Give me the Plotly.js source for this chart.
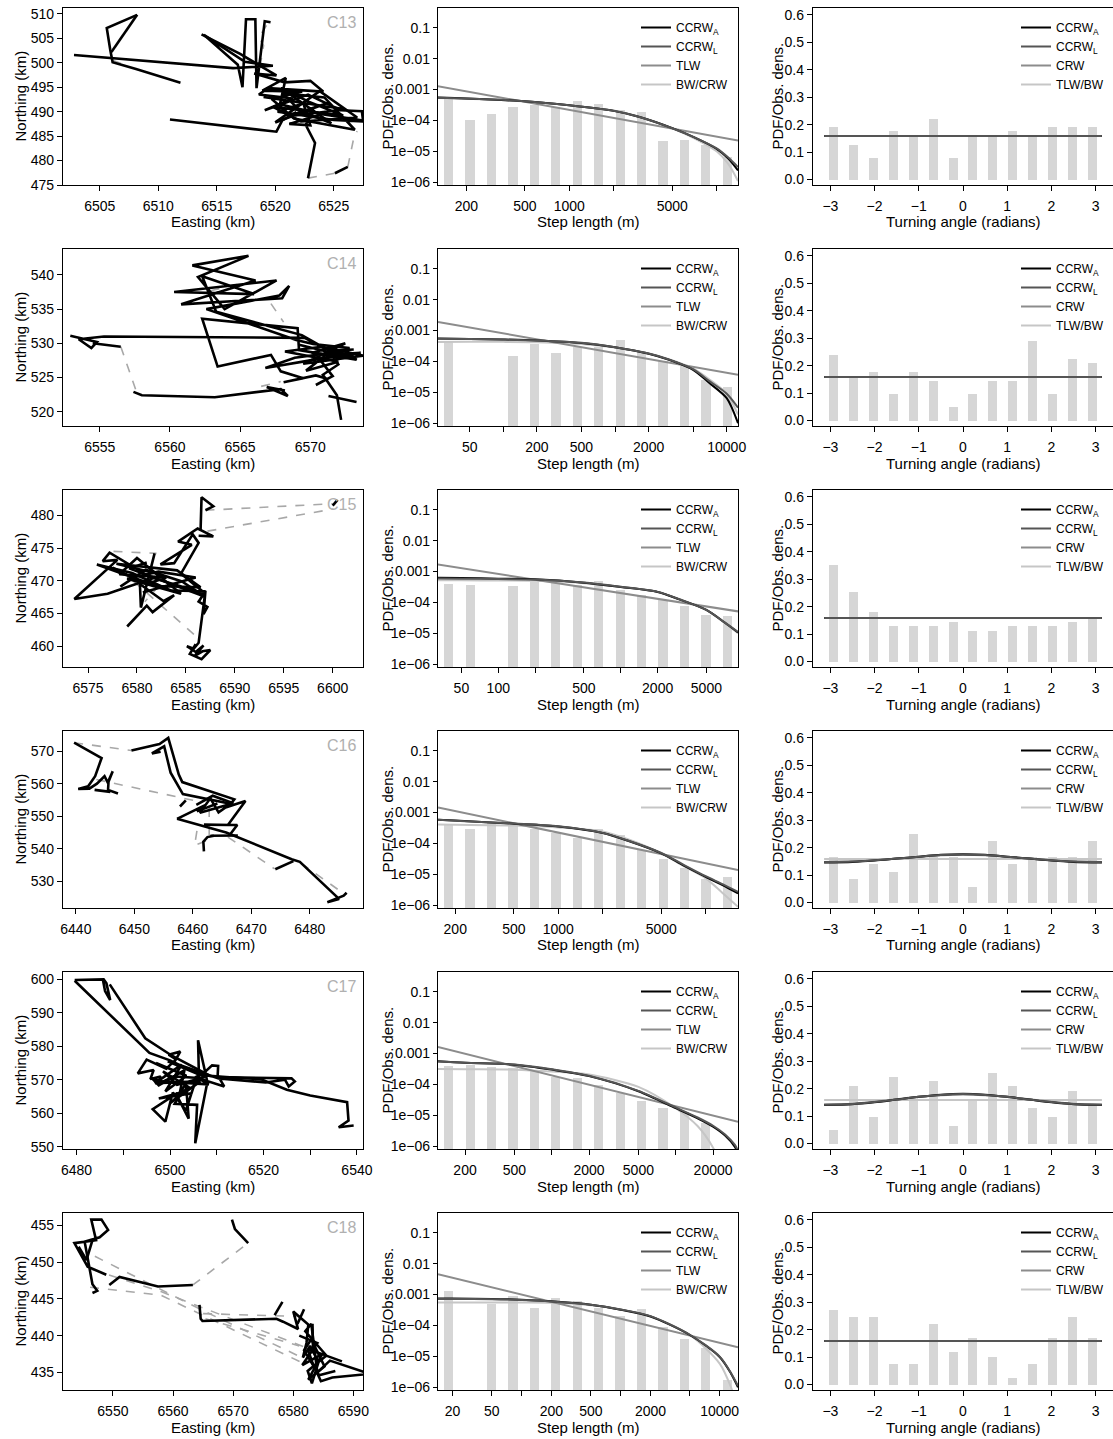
<!DOCTYPE html>
<html><head><meta charset="utf-8">
<script src="https://cdn.plot.ly/plotly-3.0.1.min.js"></script>
<style>body{margin:0;background:#fff}</style>
</head><body><div id="chart" style="width:1113px;height:1439px"></div>
<script>
// ---------------- DATA ----------------
const trackNames = ['C13','C14','C15','C16','C17','C18'];

// tracks: [easting km, northing km]; null = break
const c13Track = [[6502.8,501.6],[6509.6,500.2],[6516.4,498.9],[6519.8,499.4],[6517.4,500.2],[6513.9,505.7],[6516.8,499.6],[6517.2,495.0],[6517.5,508.9],[6518.3,508.9],[6518.4,494.8],[6519.1,508.5],[6519.6,508.3],null,
 [6513.7,505.8],[6517.0,501.8],[6520.1,497.4],[6518.2,497.8],[6520.8,496.0],[6523.0,496.3],[6524.1,494.1],[6519.4,494.8],[6518.6,493.5],[6521.5,492.7],[6519.1,490.3],[6522.8,493.5],[6525.6,490.3],[6527.4,490.1],[6527.5,488.2],[6524.0,489.5],[6521.2,487.5],[6523.0,487.2],[6522.4,491.7],[6520.2,490.0],[6525.0,488.3],[6528.3,487.9],[6525.3,489.0],[6522.0,490.5],[6520.6,493.8],[6524.2,492.9],[6526.8,486.3],[6521.6,488.6],[6519.7,492.6],[6522.3,494.1],[6518.9,494.3],[6520.9,496.9],[6520.4,491.5],[6523.2,489.9],[6522.6,487.3],[6523.4,483.6],[6522.8,476.4],null,
 [6519.0,493.0],[6526.0,490.5],[6521.0,489.0],[6524.5,491.8],[6520.0,487.8],[6523.8,494.2],[6527.0,488.8],[6522.2,488.0],[6519.8,491.0],[6525.8,489.2],[6522.9,492.0],[6520.5,494.8],[6524.8,487.6],[6521.4,490.9],null,
 [6525.1,477.4],[6526.2,478.7],null,
 [6511.0,488.4],[6520.1,485.9],[6520.6,488.2],[6521.8,489.9],null,
 [6508.2,509.8],[6505.6,507.1],[6505.9,502.6],[6506.1,500.1],[6508.1,498.7],[6511.9,495.9],null,
 [6508.2,509.8],[6506.0,502.2]];
const c13Gap = [[6522.8,476.4],[6525.1,477.4],null,[6526.2,478.7],[6526.7,484.5],[6527.0,486.0],null,[6518.7,499.2],[6519.0,503.5],[6518.6,505.2],[6519.3,507.8],null,[6506.1,500.5],[6506.9,499.8]];

const c14Track = [[6552.9,531.1],[6554.8,530.2],[6554.4,529.3],[6553.5,530.6],[6555.3,531.0],[6569.6,530.8],[6571.8,528.4],[6573.6,528.6],[6570.0,527.5],[6566.8,526.4],[6568.9,527.9],[6572.6,528.9],[6573.3,527.6],[6569.2,529.0],[6569.1,532.2],[6562.3,533.6],[6563.4,526.6],[6567.2,528.3],[6567.9,525.9],[6569.5,524.9],[6568.1,524.3],[6570.4,525.3],[6571.2,524.8],[6570.4,523.9],[6571.6,525.2],[6570.7,527.6],[6572.8,529.3],[6570.2,529.9],[6569.0,530.5],[6562.6,535.0],[6567.8,537.0],[6568.5,538.4],[6568.0,536.6],[6560.8,535.7],[6566.1,539.2],[6561.6,541.4],[6565.6,542.8],[6562.0,539.7],[6563.9,535.0],[6567.6,539.2],[6560.3,537.5],[6566.0,537.2],[6562.3,539.8],[6563.3,534.6],[6569.4,531.2],[6571.3,529.0],[6572.0,526.9],[6570.9,525.4],[6571.9,522.4],[6572.2,518.8],null,
 [6569.2,529.8],[6573.0,527.9],[6570.1,528.6],[6572.5,530.0],[6569.5,527.0],[6573.8,528.2],[6570.8,529.5],[6568.2,528.8],[6572.0,527.3],[6569.7,526.0],[6571.5,528.9],[6573.1,529.1],null,
 [6571.3,522.3],[6573.3,521.4],null,
 [6554.5,530.0],[6556.5,529.5],null,
 [6557.4,522.9],[6558.0,522.4],[6563.2,522.1],[6567.9,523.3],[6568.4,522.3],[6566.9,523.6],[6568.2,523.1]];
const c14Gap = [[6556.5,529.5],[6557.6,523.0],null,[6562.9,537.7],[6565.4,538.9],null,[6567.2,535.8],[6568.1,533.1],null,[6566.5,523.7],[6567.9,524.4]];

const c15Track = [[6586.5,477.7],[6586.6,482.8],[6587.8,481.4],[6587.0,480.8],null,
 [6600.0,481.5],[6600.5,482.4],null,
 [6586.3,476.9],[6587.8,476.8],[6586.2,478.0],[6584.2,476.0],[6585.6,475.5],[6582.4,472.5],[6583.8,472.7],[6585.7,477.1],[6586.3,475.8],[6584.5,471.1],[6587.0,468.0],[6581.3,470.6],[6577.2,474.3],[6576.5,473.0],[6578.0,473.2],[6573.6,467.2],[6577.0,468.0],[6582.6,470.9],[6577.9,472.6],[6584.1,471.6],[6586.5,469.0],[6582.0,469.2],[6575.9,472.5],[6579.5,471.2],[6583.5,468.5],[6587.0,468.4],[6586.3,466.8],[6587.2,466.0],[6586.8,464.9],[6587.0,468.5],[6586.3,460.5],[6585.8,459.6],[6585.1,460.0],[6586.0,459.1],[6586.8,460.1],[6585.9,458.5],[6586.7,459.2],[6587.5,459.4],[6586.6,458.0],[6585.4,458.8],[6586.0,460.3],null,
 [6579.0,463.0],[6581.0,466.2],[6581.6,465.2],[6583.8,467.8],[6582.7,466.9],[6580.3,469.5],[6580.4,465.9],[6581.8,474.2],null,
 [6578.3,469.1],[6580.9,471.7],[6584.6,469.9],[6586.9,467.6],[6579.2,471.9],[6581.0,472.8],null,
 [6577.5,472.0],[6581.0,469.5],[6583.0,470.5],[6578.2,471.0],[6580.0,473.5],[6584.5,468.0],[6579.0,470.3],[6582.2,471.4],[6586.0,470.5],[6580.6,468.2]];
const c15Gap = [[6587.0,480.8],[6600.0,481.8],null,[6587.2,477.6],[6600.1,481.0],null,[6577.6,474.5],[6582.0,474.2],null,[6579.6,470.0],[6585.9,461.7],null,[6582.3,469.3],[6580.8,466.8]];

const c16Track = [[6439.7,572.6],[6444.4,567.9],[6443.3,562.3],[6442.1,559.2],[6440.4,558.4],[6442.3,558.5],[6443.6,560.0],[6444.9,562.3],[6445.5,560.2],[6446.3,563.8],[6445.6,561.0],[6445.5,558.1],[6447.2,557.0],null,
 [6443.2,558.1],[6445.9,557.5],null,
 [6449.5,570.2],[6454.3,572.2],[6455.8,574.1],[6457.6,562.8],[6458.2,560.5],[6467.1,555.2],[6466.5,553.8],[6458.3,556.8],[6456.2,563.4],[6455.1,571.5],[6453.0,569.3],[6454.5,569.8],null,
 [6460.6,553.5],[6463.4,556.3],[6466.9,554.0],[6461.2,551.1],[6463.0,555.5],[6464.4,551.2],[6465.6,552.7],[6469.0,554.7],[6466.0,547.3],[6461.9,547.4],[6467.6,547.3],[6466.2,544.0],[6463.0,544.0],[6467.7,544.1],null,
 [6457.3,549.2],[6462.1,553.4],[6460.7,551.5],[6464.2,553.9],null,
 [6457.3,549.2],[6465.7,545.0],[6476.9,536.8],[6478.3,536.0],[6485.0,524.6],[6483.0,523.6],[6485.8,525.6],[6486.3,526.5],null,
 [6474.1,533.7],[6477.2,536.2],null,
 [6461.9,539.2],[6461.8,542.2],[6462.5,543.6],[6463.6,544.0],null,
 [6457.8,553.0],[6458.8,554.9]];
const c16Gap = [[6439.7,572.6],[6449.5,570.2],null,[6443.5,561.3],[6460.8,554.6],null,[6460.7,545.5],[6460.3,541.0],[6463.6,543.4],null,[6462.8,552.5],[6462.8,543.0],null,[6466.0,543.6],[6474.0,533.8],null,[6478.5,535.6],[6485.2,527.0]];

const c17Track = [[6479.6,599.8],[6485.8,600.0],[6486.4,598.8],[6487.2,593.8],[6486.1,596.5],[6485.6,600.2],null,
 [6479.6,599.6],[6495.6,578.0],[6500.0,575.8],[6506.2,571.7],[6509.8,570.8],[6526.0,570.4],[6526.7,569.5],[6525.4,568.0],[6524.6,570.0],[6520.5,569.2],[6510.4,570.4],[6500.8,575.0],[6502.2,578.4],[6499.7,577.5],[6501.3,576.1],[6499.2,573.3],[6495.0,576.0],[6493.1,571.9],[6496.5,572.9],[6495.8,570.2],[6498.0,571.0],[6497.4,568.7],[6500.8,571.0],[6505.3,570.6],[6507.3,572.1],[6509.0,574.3],[6510.3,574.1],[6510.2,571.3],[6511.6,568.0],[6506.2,570.4],[6506.0,581.8],[6508.0,569.3],[6505.4,551.0],[6505.8,562.5],[6501.0,562.8],[6503.4,569.0],[6504.0,558.4],[6501.3,565.8],[6496.3,561.2],[6499.0,557.5],[6500.6,566.2],[6503.4,560.8],[6505.7,570.7],[6508.3,568.6],[6498.2,569.5],[6496.1,570.5],[6497.6,568.3],[6503.1,572.9],[6502.1,566.1],[6497.6,564.4],[6504.8,566.0],null,
 [6497.0,575.0],[6503.5,571.2],[6499.0,566.5],[6502.5,574.5],[6496.8,569.0],[6506.5,569.5],[6500.0,563.0],[6504.0,567.8],[6498.5,572.5],[6501.5,568.5],[6507.5,570.8],[6499.5,575.5],null,
 [6487.1,598.5],[6494.7,582.4],[6500.5,577.1],[6508.5,571.2],[6512.0,570.8],[6519.5,570.1],[6525.0,567.0],[6530.0,565.3],[6537.9,563.3],[6538.2,557.8],[6536.1,555.8],[6539.3,556.3]];
const c17Gap = [];

const c18Track = [[6548.9,448.3],[6545.8,449.4],[6543.6,452.6],[6547.2,453.0],[6546.4,455.8],[6548.1,455.8],[6549.2,454.4],[6547.8,453.4],[6545.3,452.8],[6546.0,449.8],[6546.6,447.0],[6547.4,446.1],[6546.6,445.8],null,
 [6544.3,452.1],[6545.6,450.3],[6546.6,453.0],null,
 [6549.4,446.9],[6551.1,448.0],[6557.5,446.7],[6563.3,446.9],null,
 [6569.8,455.8],[6570.3,454.5],[6572.5,452.6],null,
 [6564.4,444.2],[6564.6,442.3],[6564.9,442.0],[6577.2,442.3],[6578.3,441.9],[6580.8,440.9],[6580.0,443.3],[6582.5,441.5],[6582.2,439.0],[6581.6,437.0],[6582.8,438.6],[6584.2,436.4],[6583.1,433.5],[6582.4,435.2],[6585.5,437.3],[6582.0,440.6],[6583.0,441.6],[6584.0,435.0],[6586.1,436.6],[6592.7,434.8],[6586.5,434.3],[6584.6,433.8],[6583.2,436.3],[6582.4,438.2],[6588.1,436.5],null,
 [6581.0,440.0],[6584.0,439.0],[6581.5,436.0],[6584.8,437.5],[6582.5,434.0],[6585.2,435.8],[6583.0,439.5],[6581.8,438.0],[6584.3,434.6],[6587.0,435.2],null,
 [6578.2,444.6],[6576.9,442.8],null,
 [6581.8,443.6],[6580.7,441.6],null,
 [6583.2,441.6],[6583.3,437.6]];
const c18Gap = [[6547.0,450.8],[6565.0,443.4],[6581.5,437.0],null,[6546.5,449.0],[6558.0,446.0],[6582.3,438.3],null,[6546.2,446.6],[6558.0,445.5],[6581.5,436.3],null,[6565.0,443.0],[6581.4,442.6],null,[6565.4,442.3],[6581.0,438.6],null,[6563.3,446.9],[6572.5,452.6]];

const eastRanges = [[6501.86,6527.5],[6552.38,6573.76],[6572.44,6603.1],[6437.8,6489.1],[6477.1,6541.3],[6541.7,6591.6]];
const northRanges = [[475,511.2],[517.9,543.8],[456.8,483.9],[521.8,576.2],[549.3,602.2],[432.6,456.7]];
const eastTicks = [[6505,6510,6515,6520,6525],[6555,6560,6565,6570],[6575,6580,6585,6590,6595,6600],[6440,6450,6460,6470,6480],[6480,6500,6520,6540],[6550,6560,6570,6580,6590]];
const eastMinorTicks = [[],[],[],[],[6490,6510,6530],[]];
const northTicks = [[475,480,485,490,495,500,505,510],[520,525,530,535,540],[460,465,470,475,480],[530,540,550,560,570],[550,560,570,580,590,600],[435,440,445,450,455]];

// step-length histograms (bin centres in m, observed density)
const stepBinsC13 = [152,212,297,415,581,811,1133,1585,2213,3097,4325,6053,8453,11800];
const stepBinsC14 = [32.4,50.5,78.5,122,190,296,459,714,1112,1730,2692,4188,6516,10140];
const stepBinsC15 = [39.4,58.9,88.1,132,197,295,442,661,989,1479,2213,3311,4955,7413];
const stepBinsC16 = [181,252,353,493,690,964,1349,1884,2630,3681,5140,7194,10046,14060];
const stepBinsC17 = [148,220,327,488,724,1079,1607,2393,3565,5297,7889,11749,17498,26002];
const stepBinsC18 = [18.3,30.1,49.7,81.7,135,221,364,600,986,1626,2673,4395,7244,11912];
const stepDensC13 = [5.75e-4,1.07e-4,1.58e-4,2.75e-4,3.09e-4,2.75e-4,4.27e-4,3.31e-4,2.14e-4,1.86e-4,2.14e-5,2.34e-5,1.66e-5,6.46e-6];
const stepDensC14 = [4.47e-4,null,null,1.45e-4,3.63e-4,1.82e-4,2.88e-4,2.88e-4,4.79e-4,2.14e-4,1.0e-4,6.92e-5,2.57e-5,1.48e-5];
const stepDensC15 = [4.07e-4,3.80e-4,null,3.39e-4,4.57e-4,4.37e-4,3.55e-4,4.79e-4,2.45e-4,1.70e-4,1.17e-4,7.94e-5,3.98e-5,3.55e-5];
const stepDensC16 = [4.07e-4,3.02e-4,4.57e-4,3.55e-4,3.02e-4,2.19e-4,1.48e-4,3.02e-4,1.91e-4,6.17e-5,3.16e-5,1.66e-5,7.08e-6,8.32e-6];
const stepDensC17 = [3.89e-4,4.37e-4,3.55e-4,3.39e-4,3.02e-4,1.70e-4,1.62e-4,9.77e-5,5.25e-5,2.95e-5,1.70e-5,1.26e-5,5.50e-6,null];
const stepDensC18 = [1.29e-3,null,5.01e-4,8.91e-4,3.72e-4,7.59e-4,6.17e-4,3.72e-4,1.95e-4,3.47e-4,8.71e-5,3.55e-5,1.82e-5,1.66e-6];

// fitted step-length PDFs
const stepCurveC13 = [128,200,500,1000,2000,3000,5000,7000,10000,12000,13960];
const ccrwAStepC13 = [5.50e-4,5.13e-4,4.17e-4,3.09e-4,2.04e-4,1.29e-4,5.62e-5,2.88e-5,1.20e-5,5.8e-6,2.40e-6];
const ccrwLStepC13 = [5.40e-4,5.10e-4,4.20e-4,3.10e-4,2.05e-4,1.30e-4,5.60e-5,2.90e-5,1.25e-5,6.3e-6,3.10e-6];
const bwcrwStepC13 = [5.30e-4,5.00e-4,4.15e-4,3.10e-4,2.10e-4,1.32e-4,5.60e-5,2.70e-5,1.00e-5,3.9e-6,1.10e-6];
const tlwXC13 = [128,13960], tlwYC13 = [1.29e-3,2.24e-5];

const stepCurveC14 = [26,50,100,200,500,1000,2000,3000,5000,7000,10000,12620];
const ccrwAStepC14 = [5.50e-4,5.37e-4,5.13e-4,4.79e-4,3.98e-4,2.88e-4,1.78e-4,1.15e-4,5.37e-5,2.0e-5,6.46e-6,1.0e-6];
const ccrwLStepC14 = [5.40e-4,5.30e-4,5.10e-4,4.80e-4,4.00e-4,2.90e-4,1.80e-4,1.17e-4,5.6e-5,2.3e-5,9.0e-6,3.2e-6];
const bwcrwStepC14 = [4.27e-4,4.30e-4,4.30e-4,4.20e-4,3.70e-4,2.80e-4,1.80e-4,1.20e-4,5.8e-5,2.6e-5,9.0e-6,1.9e-6];
const tlwXC14 = [26,12620], tlwYC14 = [1.91e-3,3.72e-5];

const stepCurveC15 = [32,50,100,200,500,1000,2000,3000,5000,7000,9060];
const ccrwAStepC15 = [6.31e-4,6.17e-4,5.89e-4,5.62e-4,4.37e-4,3.16e-4,2.19e-4,1.26e-4,5.75e-5,2.29e-5,1.07e-5];
const ccrwLStepC15 = [6.0e-4,5.9e-4,5.7e-4,5.5e-4,4.4e-4,3.2e-4,2.2e-4,1.27e-4,5.7e-5,2.3e-5,1.1e-5];
const bwcrwStepC15 = [5.25e-4,5.2e-4,5.1e-4,5.0e-4,4.2e-4,3.2e-4,2.2e-4,1.3e-4,5.6e-5,2.2e-5,1.0e-5];
const tlwXC15 = [32,9060], tlwYC15 = [1.70e-3,5.13e-5];

const stepCurveC16 = [153,200,500,1000,2000,3000,5000,7000,10000,13000,16560];
const ccrwAStepC16 = [5.89e-4,5.50e-4,4.37e-4,3.55e-4,2.19e-4,1.20e-4,4.79e-5,2.0e-5,8.32e-6,4.47e-6,2.40e-6];
const ccrwLStepC16 = [5.8e-4,5.45e-4,4.4e-4,3.6e-4,2.2e-4,1.22e-4,4.9e-5,2.1e-5,8.7e-6,4.8e-6,2.7e-6];
const bwcrwStepC16 = [4.07e-4,4.0e-4,3.8e-4,3.3e-4,2.45e-4,1.35e-4,4.8e-5,1.9e-5,7.4e-6,2.5e-6,8.9e-7];
const tlwXC16 = [153,16560], tlwYC16 = [1.45e-3,1.38e-5];

const stepCurveC17 = [121,200,500,1000,2000,5000,10000,15000,20000,25000,30000,31770];
const ccrwAStepC17 = [5.62e-4,5.01e-4,4.37e-4,3.02e-4,1.86e-4,6.03e-5,1.70e-5,8.0e-6,4.27e-6,2.2e-6,9.5e-7,6.0e-7];
const ccrwLStepC17 = [5.5e-4,5.0e-4,4.4e-4,3.1e-4,1.9e-4,6.2e-5,1.8e-5,8.5e-6,4.6e-6,2.4e-6,1.1e-6,7.0e-7];
const bwcrwStepC17 = [3.16e-4,3.1e-4,3.0e-4,2.6e-4,2.1e-4,8.3e-5,1.7e-5,4.5e-6,9e-7,1.2e-7,1e-8,5e-9];
const tlwXC17 = [121,31770], tlwYC17 = [1.62e-3,6.17e-6];

const stepCurveC18 = [14.3,20,50,100,200,500,1000,2000,5000,10000,13000,15310];
const ccrwAStepC18 = [7.41e-4,7.41e-4,7.24e-4,6.76e-4,6.03e-4,4.68e-4,3.24e-4,1.95e-4,4.90e-5,9.55e-6,2.8e-6,1.0e-6];
const ccrwLStepC18 = [7.2e-4,7.2e-4,7.1e-4,6.7e-4,6.0e-4,4.7e-4,3.3e-4,2.0e-4,5.0e-5,9.8e-6,2.9e-6,1.1e-6];
const bwcrwStepC18 = [5.5e-4,5.5e-4,5.5e-4,5.5e-4,5.4e-4,4.5e-4,3.3e-4,2.0e-4,4.9e-5,5.8e-6,1.0e-6,2e-7];
const tlwXC18 = [14.3,15310], tlwYC18 = [4.57e-3,1.95e-5];

const stepRangesLog = [[2.109,4.145],[1.415,4.101],[1.508,3.957],[2.184,4.219],[2.083,4.502],[1.155,4.185]];
const stepTicks = [[200,500,1000,5000],[50,200,500,2000,10000],[50,100,500,2000,5000],[200,500,1000,5000],[200,500,2000,5000,20000],[20,50,200,500,2000,10000]];
const stepMinorTicks = [[2000,10000],[100,1000,5000],[200,1000],[2000,10000],[1000,10000],[100,1000,5000]];
const densTicks = [1e-6,1e-5,1e-4,1e-3,1e-2,1e-1];
const densTickText = ['1e\u221206','1e\u221205','1e\u221204','0.001','0.01','0.1'];

// turning-angle histograms
const angleBins = [-2.92,-2.47,-2.02,-1.57,-1.12,-0.67,-0.22,0.22,0.67,1.12,1.57,2.02,2.47,2.92];
const angleDensC13 = [0.19,0.125,0.08,0.175,0.16,0.22,0.08,0.16,0.16,0.175,0.16,0.19,0.19,0.19];
const angleDensC14 = [0.24,0.16,0.175,0.095,0.175,0.145,0.05,0.095,0.145,0.145,0.29,0.095,0.225,0.21];
const angleDensC15 = [0.35,0.255,0.18,0.13,0.13,0.13,0.145,0.11,0.11,0.13,0.13,0.13,0.145,0.16];
const angleDensC16 = [0.167,0.084,0.139,0.111,0.251,0.167,0.167,0.056,0.223,0.139,0.167,0.167,0.167,0.223];
const angleDensC17 = [0.049,0.21,0.096,0.241,0.165,0.226,0.063,0.16,0.256,0.21,0.128,0.096,0.193,0.145];
const angleDensC18 = [0.27,0.245,0.245,0.075,0.075,0.22,0.12,0.17,0.1,0.025,0.075,0.17,0.245,0.17];

const uniformX = [-3.1416,3.1416], uniformY = [0.159,0.159];
const angleCurveX = [-3.1416,-2.5,-2,-1.5,-1,-0.5,0,0.5,1,1.5,2,2.5,3.1416];
const ccrwAAngleC16 = [0.146,0.148,0.153,0.160,0.167,0.174,0.176,0.174,0.167,0.160,0.153,0.148,0.146];
const ccrwLAngleC16 = [0.147,0.149,0.154,0.160,0.167,0.173,0.175,0.173,0.167,0.160,0.154,0.149,0.147];
const crwAngleC16   = [0.148,0.150,0.154,0.160,0.166,0.172,0.174,0.172,0.166,0.160,0.154,0.150,0.148];
const ccrwAAngleC17 = [0.140,0.143,0.150,0.160,0.170,0.178,0.181,0.178,0.170,0.160,0.150,0.143,0.140];
const ccrwLAngleC17 = [0.141,0.144,0.151,0.160,0.170,0.177,0.180,0.177,0.170,0.160,0.151,0.144,0.141];
const crwAngleC17   = [0.142,0.145,0.152,0.161,0.170,0.176,0.179,0.176,0.170,0.161,0.152,0.145,0.142];

// ---------------- BUILD ----------------
const tracks = [c13Track,c14Track,c15Track,c16Track,c17Track,c18Track];
const gaps = [c13Gap,c14Gap,c15Gap,c16Gap,c17Gap,c18Gap];
const stepBins = [stepBinsC13,stepBinsC14,stepBinsC15,stepBinsC16,stepBinsC17,stepBinsC18];
const stepDens = [stepDensC13,stepDensC14,stepDensC15,stepDensC16,stepDensC17,stepDensC18];
const stepCurveX = [stepCurveC13,stepCurveC14,stepCurveC15,stepCurveC16,stepCurveC17,stepCurveC18];
const ccrwAStep = [ccrwAStepC13,ccrwAStepC14,ccrwAStepC15,ccrwAStepC16,ccrwAStepC17,ccrwAStepC18];
const ccrwLStep = [ccrwLStepC13,ccrwLStepC14,ccrwLStepC15,ccrwLStepC16,ccrwLStepC17,ccrwLStepC18];
const bwcrwStep = [bwcrwStepC13,bwcrwStepC14,bwcrwStepC15,bwcrwStepC16,bwcrwStepC17,bwcrwStepC18];
const tlwX = [tlwXC13,tlwXC14,tlwXC15,tlwXC16,tlwXC17,tlwXC18];
const tlwY = [tlwYC13,tlwYC14,tlwYC15,tlwYC16,tlwYC17,tlwYC18];
const angleDens = [angleDensC13,angleDensC14,angleDensC15,angleDensC16,angleDensC17,angleDensC18];
const angleCurves = [null,null,null,
  {x:angleCurveX,a:ccrwAAngleC16,l:ccrwLAngleC16,c:crwAngleC16},
  {x:angleCurveX,a:ccrwAAngleC17,l:ccrwLAngleC17,c:crwAngleC17},null];

const FONT = 'Liberation Sans, Arial, Helvetica, sans-serif';
const W = 1113, H = 1439;
const COLX = [63,438,813], PW = 300, PH = 177, TOP0 = 8, PITCH = 241;
const C_A = '#000000', C_L = '#555555', C_M = '#8c8c8c', C_B = '#c6c6c6', BAR = '#d6d6d6';

const traces = [];
const layout = {
  width: W, height: H, margin: {l:0,r:0,t:0,b:0, pad:0},
  paper_bgcolor: '#fff', plot_bgcolor: '#fff',
  font: {family: FONT, size: 14, color: '#000'},
  showlegend: true, bargap: 0, annotations: []
};
const sfx = k => (k === 1 ? '' : String(k));
function baseAxis(){
  return {showline:true, linecolor:'#000', linewidth:1.2, mirror:true, ticks:'outside', ticklen:5,
    tickwidth:1, tickcolor:'#000', showgrid:false, zeroline:false, fixedrange:true,
    tickfont:{family:FONT,size:14,color:'#000'}};
}
function minorTicks(vals){
  return {tickmode:'array', tickvals:vals, ticks:'outside', ticklen:5, tickwidth:1, tickcolor:'#000', showgrid:false};
}
function legendBox(textLeftPx, topPx){
  return {x:(textLeftPx-40)/W, xanchor:'left', y:1-topPx/H, yanchor:'top', bgcolor:'rgba(0,0,0,0)',
    borderwidth:0, font:{family:FONT,size:12,color:'#000'}, itemwidth:30, tracegroupgap:0,
    traceorder:'normal', itemclick:false, itemdoubleclick:false};
}
function ann(text, xpx, ypx, opts){
  return Object.assign({text, xref:'paper', yref:'paper', x:xpx/W, y:1-ypx/H, showarrow:false,
    xanchor:'center', yanchor:'middle', font:{family:FONT,size:15,color:'#000'}}, opts||{});
}
const xy = pts => ({x: pts.map(p => p ? p[0] : null), y: pts.map(p => p ? p[1] : null)});

for (let r = 0; r < 6; r++) {
  const top = TOP0 + PITCH*r, bot = top + PH;
  const yd = [1 - bot/H, 1 - top/H];
  const k1 = 3*r+1, k2 = 3*r+2, k3 = 3*r+3;

  // ---- column 1: track ----
  const xa1 = Object.assign(baseAxis(), {domain:[COLX[0]/W,(COLX[0]+PW)/W], anchor:'y'+sfx(k1),
    range:eastRanges[r], tickmode:'array', tickvals:eastTicks[r], ticktext:eastTicks[r].map(String), ticklabelstandoff:3});
  if (eastMinorTicks[r].length) xa1.minor = minorTicks(eastMinorTicks[r]);
  layout['xaxis'+sfx(k1)] = xa1;
  layout['yaxis'+sfx(k1)] = Object.assign(baseAxis(), {domain:yd, anchor:'x'+sfx(k1),
    range:northRanges[r], tickmode:'array', tickvals:northTicks[r], ticktext:northTicks[r].map(String)});
  if (gaps[r].length) {
    const g = xy(gaps[r]);
    traces.push({type:'scatter', mode:'lines', x:g.x, y:g.y, xaxis:'x'+sfx(k1), yaxis:'y'+sfx(k1),
      line:{color:'#a8a8a8', width:1.6, dash:'dash'}, showlegend:false, hoverinfo:'skip', connectgaps:false});
  }
  const t = xy(tracks[r]);
  traces.push({type:'scatter', mode:'lines', x:t.x, y:t.y, xaxis:'x'+sfx(k1), yaxis:'y'+sfx(k1),
    line:{color:'#000', width:2.6}, showlegend:false, hoverinfo:'skip', connectgaps:false});
  layout.annotations.push(ann(trackNames[r], COLX[0]+PW-5, top+4, {xanchor:'right', yanchor:'top', font:{family:FONT,size:16,color:'#b0b0b0'}}));
  layout.annotations.push(ann('Easting (km)', COLX[0]+PW/2, top+214));
  layout.annotations.push(ann('Northing (km)', 20, top+PH/2, {textangle:-90}));

  // ---- column 2: step length ----
  const lg2 = 2*r+1, lg3 = 2*r+2;
  const lgName2 = 'legend'+sfx(lg2), lgName3 = 'legend'+sfx(lg3);
  layout['xaxis'+sfx(k2)] = Object.assign(baseAxis(), {domain:[COLX[1]/W,(COLX[1]+PW)/W], anchor:'y'+sfx(k2),
    type:'linear', range:stepRangesLog[r], tickmode:'array', tickvals:stepTicks[r].map(v=>Math.log10(v)),
    ticktext:stepTicks[r].map(String), ticklabelstandoff:3,
    minor:minorTicks(stepMinorTicks[r].map(v=>Math.log10(v)))});
  layout['yaxis'+sfx(k2)] = Object.assign(baseAxis(), {domain:yd, anchor:'x'+sfx(k2), type:'log',
    range:[-6.09,-0.36], tickmode:'array', tickvals:densTicks, ticktext:densTickText, ticklen:4});
  const lb = stepBins[r].map(v => Math.log10(v));
  const bw = (lb[1]-lb[0])*0.43;
  traces.push({type:'bar', x:lb, y:stepDens[r], base:1e-8, width:bw, marker:{color:BAR, line:{width:0}},
    xaxis:'x'+sfx(k2), yaxis:'y'+sfx(k2), showlegend:false, hoverinfo:'skip'});
  const lx = stepCurveX[r].map(v => Math.log10(v));
  const curve2 = (y, name, color, rank, xs) => ({type:'scatter', mode:'lines', x:xs||lx, y, name,
    line:{color, width:2, shape:'spline', smoothing:0.8}, xaxis:'x'+sfx(k2), yaxis:'y'+sfx(k2),
    legend:lgName2, legendrank:rank, hoverinfo:'skip'});
  traces.push(curve2(bwcrwStep[r], 'BW/CRW', C_B, 4));
  traces.push(Object.assign(curve2(tlwY[r], 'TLW', C_M, 3, tlwX[r].map(v=>Math.log10(v))), {line:{color:C_M,width:2}}));
  traces.push(curve2(ccrwAStep[r], 'CCRW<sub>A</sub>', C_A, 1));
  traces.push(curve2(ccrwLStep[r], 'CCRW<sub>L</sub>', C_L, 2));
  layout[lgName2] = legendBox(676, top+5);
  layout.annotations.push(ann('Step length (m)', COLX[1]+PW/2, top+214));
  layout.annotations.push(ann('PDF/Obs. dens.', 387, top+PH/2, {textangle:-90}));

  // ---- column 3: turning angle ----
  layout['xaxis'+sfx(k3)] = Object.assign(baseAxis(), {domain:[COLX[2]/W,(COLX[2]+PW)/W], anchor:'y'+sfx(k3),
    range:[-3.393,3.393], tickmode:'array', tickvals:[-3,-2,-1,0,1,2,3], ticklabelstandoff:3});
  layout['yaxis'+sfx(k3)] = Object.assign(baseAxis(), {domain:yd, anchor:'x'+sfx(k3),
    range:[-0.02,0.625], tickmode:'array', tickvals:[0,0.1,0.2,0.3,0.4,0.5,0.6], tickformat:'.1f'});
  traces.push({type:'bar', x:angleBins, y:angleDens[r], width:0.2, marker:{color:BAR, line:{width:0}},
    xaxis:'x'+sfx(k3), yaxis:'y'+sfx(k3), showlegend:false, hoverinfo:'skip'});
  const ac = angleCurves[r];
  const curve3 = (x, y, name, color, rank) => ({type:'scatter', mode:'lines', x, y, name,
    line:{color, width:2, shape:'spline', smoothing:0.8}, xaxis:'x'+sfx(k3), yaxis:'y'+sfx(k3),
    legend:lgName3, legendrank:rank, hoverinfo:'skip'});
  traces.push(curve3(uniformX, uniformY, 'TLW/BW', C_B, 4));
  traces.push(curve3(ac?ac.x:uniformX, ac?ac.c:uniformY, 'CRW', C_M, 3));
  traces.push(curve3(ac?ac.x:uniformX, ac?ac.a:uniformY, 'CCRW<sub>A</sub>', C_A, 1));
  traces.push(curve3(ac?ac.x:uniformX, ac?ac.l:uniformY, 'CCRW<sub>L</sub>', C_L, 2));
  layout[lgName3] = legendBox(1056, top+5);
  layout.annotations.push(ann('Turning angle (radians)', COLX[2]+PW/2, top+214));
  layout.annotations.push(ann('PDF/Obs. dens.', 777, top+PH/2, {textangle:-90}));
}

Plotly.newPlot('chart', traces, layout, {staticPlot:true, displayModeBar:false});
</script></body></html>
